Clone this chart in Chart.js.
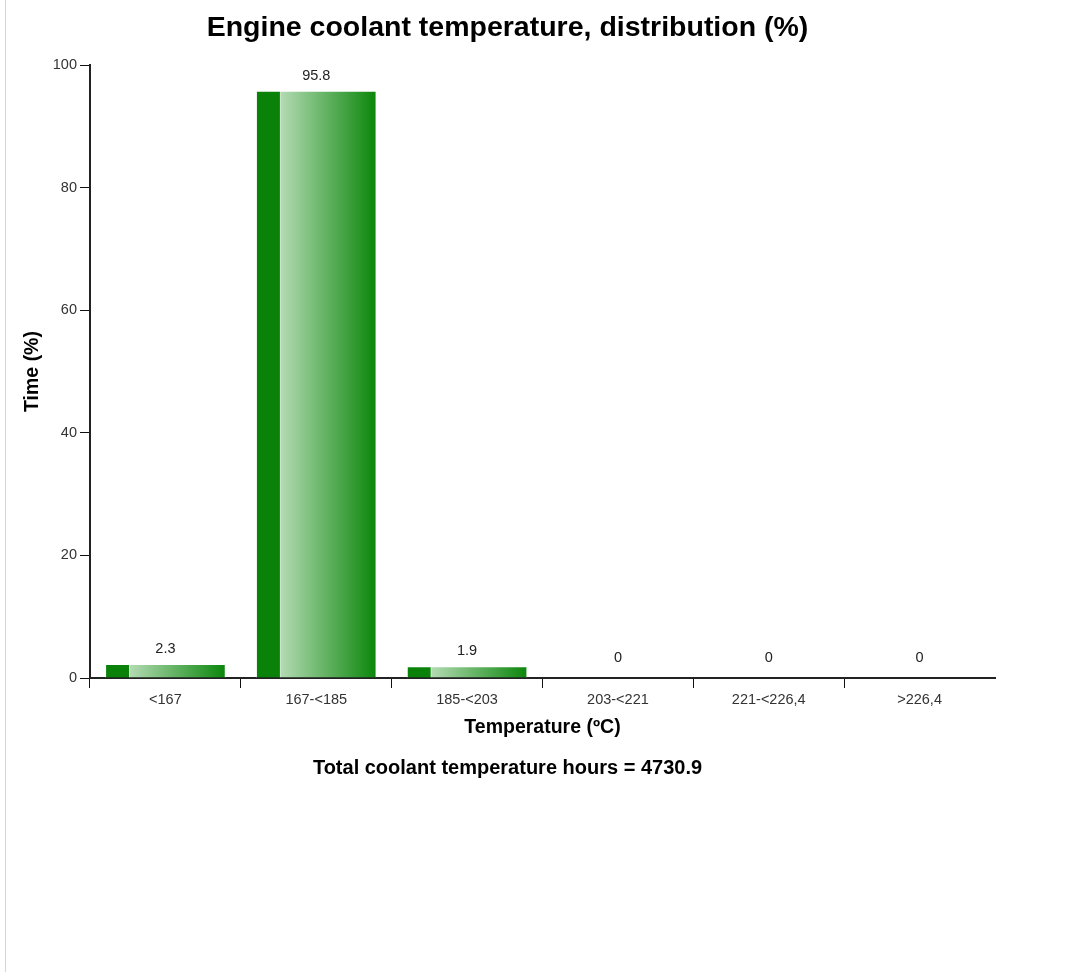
<!DOCTYPE html>
<html>
<head>
<meta charset="utf-8">
<title>Engine coolant temperature</title>
<script src="https://cdn.jsdelivr.net/npm/chart.js@4.4.1/dist/chart.umd.min.js"></script>
<style>
    body { margin: 0; background: #fff; }
    #wrap { position: relative; width: 1076px; height: 972px; }
    #edge { position: absolute; left: 5px; top: 0; width: 1px; height: 972px; background: #d6d6d6; }
</style>
</head>
<body>
<div id="wrap">
    <canvas id="myChart" width="1076" height="972"></canvas>
    <div id="edge"></div>
</div>
<script>
'use strict';

// chart data
let tempRanges = ['<167', '167-<185', '185-<203', '203-<221', '221-<226,4', '>226,4'];
let timeShare = [2.3, 95.8, 1.9, 0, 0, 0];
let yTicks = [0, 20, 40, 60, 80, 100];
let totalHours = 4730.9;

let fontFam = 'Arial, "Liberation Sans", sans-serif';

// green bar with dark strip on the left and light->dark gradient
function barFill(context) {
    let chart = context.chart;
    let xs = chart.scales.x;
    if (!xs || !chart.chartArea) {
        return '#0a840a';
    }
    let center = xs.getPixelForValue(context.dataIndex);
    let half = (xs.width / tempRanges.length) * 0.8 / 2;
    let g = chart.ctx.createLinearGradient(center - half, 0, center + half, 0);
    g.addColorStop(0, '#0a820a');
    g.addColorStop(0.195, '#0a820a');
    g.addColorStop(0.2, '#d8eed8');
    g.addColorStop(0.21, '#b2dab2');
    g.addColorStop(1, '#0a860a');
    return g;
}

let valueLabels = {
    id: 'valueLabels',
    afterDatasetsDraw(chart) {
        let ctx = chart.ctx;
        let meta = chart.getDatasetMeta(0);
        ctx.save();
        ctx.font = '14.5px ' + fontFam;
        ctx.fillStyle = '#222';
        ctx.textAlign = 'center';
        ctx.textBaseline = 'middle';
        for (let i = 0; i < meta.data.length; i++) {
            let bar = meta.data[i];
            let v = timeShare[i];
            ctx.fillText(String(v), bar.x, bar.y - (v === 0 ? 20 : 15));
        }
        ctx.restore();
    }
};

let ctx = document.getElementById('myChart').getContext('2d');
let myChart = new Chart(ctx, {
    type: 'bar',
    data: {
        labels: tempRanges,
        datasets: [{
            data: timeShare,
            backgroundColor: barFill,
            borderColor: 'rgba(255,255,255,0.7)',
            borderWidth: 1,
            categoryPercentage: 0.8,
            barPercentage: 1
        }]
    },
    plugins: [valueLabels],
    options: {
        responsive: false,
        animation: false,
        devicePixelRatio: 1,
        layout: {
            padding: { left: 20, right: 81, top: 0, bottom: 192 }
        },
        plugins: {
            legend: { display: false },
            tooltip: { enabled: false },
            title: {
                display: true,
                text: 'Engine coolant temperature, distribution (%)',
                color: '#000',
                font: { family: fontFam, size: 28.5, weight: 'bold', lineHeight: 1.2 },
                padding: { top: 11, bottom: 19.8 }
            },
            subtitle: {
                display: true,
                position: 'bottom',
                text: 'Total coolant temperature hours = ' + totalHours,
                color: '#000',
                font: { family: fontFam, size: 20, weight: 'bold', lineHeight: 1.2 },
                padding: { top: 8, bottom: 0 }
            }
        },
        scales: {
            x: {
                grid: {
                    offset: true,
                    drawOnChartArea: false,
                    tickLength: 10,
                    lineWidth: 1,
                    color: function (c) {
                        // no tick mark at the right end of the axis
                        return c.tick === undefined ? 'rgba(0,0,0,0)' : '#111';
                    }
                },
                border: { color: '#222', width: 2 },
                ticks: {
                    color: '#333',
                    font: { family: fontFam, size: 14.5 },
                    maxRotation: 0,
                    autoSkip: false
                },
                title: {
                    display: true,
                    text: 'Temperature (ºC)',
                    color: '#000',
                    font: { family: fontFam, size: 19.5, weight: 'bold', lineHeight: 1.2 },
                    padding: { top: 4, bottom: 8.3 }
                },
                afterFit: function (scale) {
                    scale.height = 70;
                }
            },
            y: {
                min: yTicks[0],
                max: yTicks[yTicks.length - 1],
                afterBuildTicks: function (scale) {
                    scale.ticks = yTicks.map(function (v) { return { value: v }; });
                },
                grid: {
                    drawOnChartArea: false,
                    tickLength: 10,
                    lineWidth: 1,
                    color: '#111'
                },
                border: { color: '#222', width: 2 },
                ticks: {
                    color: '#333',
                    font: { family: fontFam, size: 14.5 },
                    padding: 3
                },
                title: {
                    display: true,
                    text: 'Time (%)',
                    color: '#000',
                    font: { family: fontFam, size: 19.5, weight: 'bold', lineHeight: 1.2 },
                    padding: { top: 1.3, bottom: 0 }
                },
                afterFit: function (scale) {
                    scale.width = 70;
                }
            }
        }
    }
});
</script>
</body>
</html>
